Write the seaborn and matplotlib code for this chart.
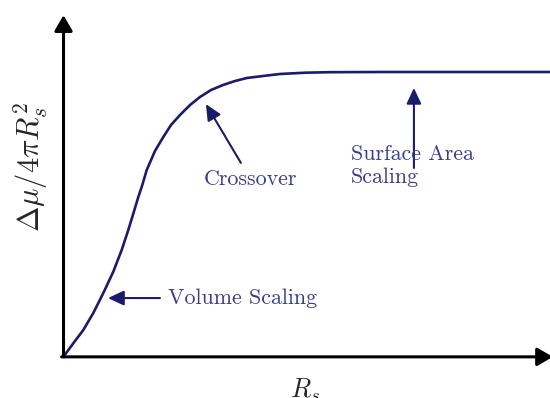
import matplotlib
matplotlib.use("Agg")
import matplotlib.pyplot as plt
import seaborn as sns
import pandas as pd

# Sphere radius vs. chemical potential shift per unit area (arbitrary units)
radius = [0.0, 0.191, 0.397, 0.603, 0.809, 1.014, 1.187, 1.323, 1.430,
          1.529, 1.605, 1.702, 1.872, 2.043, 2.202, 2.387, 2.593, 2.798,
          3.025, 3.272, 3.519, 3.765, 4.095, 4.444, 4.959, 5.473, 6.502,
          10.0]
delta_mu = [0.0, 0.447, 0.915, 1.514, 2.218, 2.968, 3.732, 4.437, 5.035,
            5.599, 5.986, 6.549, 7.218, 7.711, 8.134, 8.486, 8.838, 9.120,
            9.366, 9.542, 9.683, 9.789, 9.859, 9.930, 9.975, 9.993, 10.0,
            10.0]

annotations = ["Volume Scaling", "Crossover", "Surface Area\nScaling"]

df = pd.DataFrame({"R": radius, "mu": delta_mu})

sns.set_style("white")
plt.rcParams["mathtext.fontset"] = "cm"
plt.rcParams["font.family"] = ["cmr10", "DejaVu Serif"]

curve_color = "#1b1b6b"
text_color = "#3c3c8e"

fig = plt.figure(figsize=(5.5, 3.98), dpi=100)
ax = fig.add_axes([0, 0, 1, 1])
sns.lineplot(data=df, x="R", y="mu", ax=ax, color=curve_color, lw=1.9,
             estimator=None, sort=False, clip_on=False, zorder=3)

ax.set_xlim(-1.317, 10.0)
ax.set_ylim(-1.479, 12.535)
for s in ax.spines.values():
    s.set_visible(False)
ax.set_xticks([])
ax.set_yticks([])
ax.set_xlabel("")
ax.set_ylabel("")

# axes drawn as arrows
axis_arrow = dict(arrowstyle="-|>,head_length=0.38,head_width=0.22",
                  color="black", lw=2.2, mutation_scale=25,
                  shrinkA=0, shrinkB=0)
ax.annotate("", xy=(-0.01, 12.0), xytext=(-0.01, -0.03), arrowprops=axis_arrow,
            annotation_clip=False)
ax.annotate("", xy=(10.06, -0.03), xytext=(-0.05, -0.03), arrowprops=axis_arrow,
            annotation_clip=False)

ax.text(4.96, -1.2, r"$R_s$", fontsize=19, ha="center", va="center")
ax.text(-0.68, 6.67, r"$\Delta\mu/4\pi R_s^2$", fontsize=22, ha="center",
        va="center", rotation=90)

pointer = dict(arrowstyle="-|>,head_length=0.6,head_width=0.28",
               color=curve_color, lw=1.5, mutation_scale=16,
               shrinkA=0, shrinkB=0)
ax.annotate("", xy=(0.905, 2.04), xytext=(1.975, 2.04), arrowprops=pointer)
ax.annotate("", xy=(2.92, 8.87), xytext=(3.64, 6.80), arrowprops=pointer)
ax.annotate("", xy=(7.20, 9.44), xytext=(7.20, 6.62), arrowprops=pointer)

ax.text(2.14, 2.04, annotations[0], fontsize=15.8, color=text_color,
        ha="left", va="center")
ax.text(2.88, 6.23, annotations[1], fontsize=15.8, color=text_color,
        ha="left", va="center")
ax.text(5.91, 7.45, annotations[2], fontsize=15.8, color=text_color,
        ha="left", va="top", linespacing=1.25)

fig.savefig("out.png", dpi=100)
